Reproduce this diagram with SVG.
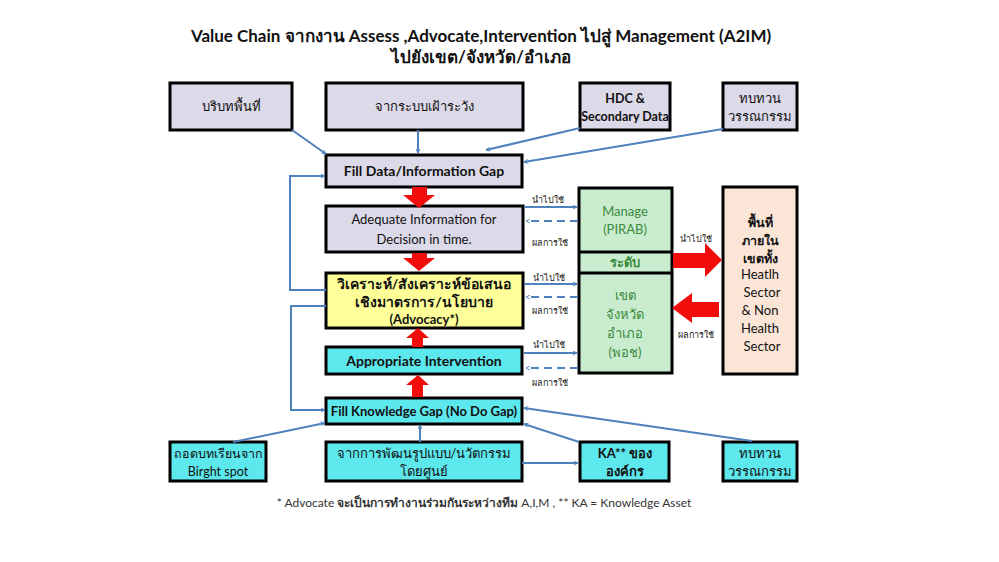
<svg xmlns="http://www.w3.org/2000/svg" width="999" height="562" viewBox="0 0 999 562">
<defs>
<marker id="ah" viewBox="0 0 10 10" refX="9" refY="5" markerWidth="5" markerHeight="5" orient="auto" markerUnits="userSpaceOnUse">
<path d="M1,1 L9,5 L1,9" fill="none" stroke="#4f81bd" stroke-width="1.8"/>
</marker>
</defs>
<style>
text{font-family:Lato,"Noto Sans","DejaVu Sans",sans-serif;text-anchor:middle;fill:#111}
.box{stroke:#000;stroke-width:3}
.lav{fill:#dcd9e8}
.cyan{fill:#5de8ee}
.yel{fill:#ffff99}
.grn{fill:#c9eccf}
.peach{fill:#fbe5d6}
.b{font-weight:bold}
.t13{font-size:13px}
.t12{font-size:12.5px}
.t14{font-size:14px}
.g{fill:#3b8a3b}
.lbl{font-size:9px;fill:#222}
.con{stroke:#4f81bd;stroke-width:2;fill:none}
.dash{stroke-dasharray:8,5}
.red{fill:#f20d0d}
</style>
<rect width="999" height="562" fill="#fff"/>
<text x="481" y="42" class="b" style="font-size:17px">Value Chain จากงาน Assess ,Advocate,Intervention ไปสู่ Management (A2IM)</text>
<text x="481" y="63" class="b" style="font-size:17px">ไปยังเขต/จังหวัด/อำเภอ</text>

<g id="n-context"><rect class="box lav" x="170" y="83" width="122" height="47"/><text x="231" y="111" class="t13">บริบทพื้นที่</text></g>
<g id="n-surveil"><rect class="box lav" x="326" y="83" width="197" height="47"/><text x="424" y="111" class="t13">จากระบบเฝ้าระวัง</text></g>
<g id="n-hdc"><rect class="box lav" x="580" y="83" width="90" height="47"/><text x="625" y="103" class="t12 b">HDC &amp;</text><text x="625" y="121" class="t12 b">Secondary Data</text></g>
<g id="n-lit1"><rect class="box lav" x="723" y="83" width="74" height="47"/><text x="760" y="103" class="t13">ทบทวน</text><text x="760" y="121" class="t13">วรรณกรรม</text></g>

<g id="n-filldata"><rect class="box lav" x="326" y="155" width="196" height="32"/><text x="424" y="176" class="t14 b">Fill Data/Information Gap</text></g>
<g id="n-adequate"><rect class="box lav" x="326" y="206" width="197" height="46"/><text x="424" y="224" class="t13">Adequate  Information for</text><text x="424" y="244" class="t13">Decision in time.</text></g>
<g id="n-analysis"><rect class="box yel" x="326" y="273" width="197" height="55"/><text x="424" y="289" class="t14 b">วิเคราะห์/สังเคราะห์ข้อเสนอ</text><text x="424" y="307" class="t14 b">เชิงมาตรการ/นโยบาย</text><text x="424" y="324" class="t13 b">(Advocacy*)</text></g>
<g id="n-approp"><rect class="box cyan" x="326" y="347" width="196" height="27"/><text x="424" y="366" class="t14 b">Appropriate Intervention</text></g>
<g id="n-fillknow"><rect class="box cyan" x="326" y="398" width="196" height="26"/><text x="424" y="416" class="t13 b">Fill Knowledge Gap (No Do Gap)</text></g>

<g id="n-bright"><rect class="box cyan" x="170" y="442" width="96" height="39"/><text x="218" y="458" class="t12">ถอดบทเรียนจาก</text><text x="218" y="476" class="t12">Birght spot</text></g>
<g id="n-develop"><rect class="box cyan" x="326" y="442" width="196" height="39"/><text x="424" y="458" class="t13">จากการพัฒนรูปแบบ/นวัตกรรม</text><text x="424" y="476" class="t13">โดยศูนย์</text></g>
<g id="n-ka"><rect class="box cyan" x="580" y="442" width="89" height="39"/><text x="625" y="458" class="t13 b">KA** ของ</text><text x="625" y="476" class="t13 b">องค์กร</text></g>
<g id="n-lit2"><rect class="box cyan" x="723" y="442" width="74" height="39"/><text x="760" y="458" class="t13">ทบทวน</text><text x="760" y="476" class="t13">วรรณกรรม</text></g>

<g id="n-level">
<rect class="box grn" x="579" y="188" width="93" height="185"/>
<line x1="579" y1="252" x2="672" y2="252" stroke="#000" stroke-width="3"/>
<line x1="579" y1="273" x2="672" y2="273" stroke="#000" stroke-width="3"/>
<text x="625" y="216" class="t13 g">Manage</text><text x="625" y="234" class="t13 g">(PIRAB)</text>
<text x="625" y="267" class="t13 g b">ระดับ</text>
<text x="625" y="300" class="t13 g">เขต</text><text x="625" y="319" class="t13 g">จังหวัด</text><text x="625" y="338" class="t13 g">อำเภอ</text><text x="625" y="357" class="t13 g">(พอช)</text>
</g>
<g id="n-area">
<rect class="box peach" x="723" y="187" width="74" height="187"/>
<text x="760" y="227" class="t12 b">พื้นที่</text><text x="760" y="245" class="t12 b">ภายใน</text><text x="760" y="263" class="t12 b">เขตทั้ง</text>
<text x="760" y="279" class="t13">Heatlh</text><text x="762" y="297" class="t13">Sector</text><text x="760" y="315" class="t13">&amp; Non</text><text x="760" y="333" class="t13">Health</text><text x="762" y="351" class="t13">Sector</text>
</g>

<g id="connectors">
<line class="con" x1="292" y1="130" x2="326" y2="154" marker-end="url(#ah)"/>
<line class="con" x1="418" y1="130" x2="418" y2="153" marker-end="url(#ah)"/>
<line class="con" x1="580" y1="128" x2="486" y2="150" marker-end="url(#ah)"/>
<line class="con" x1="723" y1="129" x2="524" y2="162" marker-end="url(#ah)"/>
<polyline class="con" points="326,290 290,290 290,176 325,176" stroke-width="2.5" marker-end="url(#ah)"/>
<polyline class="con" points="326,306 291,306 291,410 325,410" stroke-width="1.2" marker-end="url(#ah)"/>
<line class="con" x1="233" y1="442" x2="325" y2="423" marker-end="url(#ah)"/>
<line class="con" x1="420" y1="442" x2="420" y2="425" marker-end="url(#ah)"/>
<line class="con" x1="579" y1="442" x2="524" y2="424" marker-end="url(#ah)"/>
<line class="con" x1="752" y1="441" x2="524" y2="408" marker-end="url(#ah)"/>
<line class="con" x1="522" y1="463" x2="578" y2="463" marker-end="url(#ah)"/>

<line class="con" x1="524" y1="207" x2="577" y2="207" marker-end="url(#ah)"/>
<line class="con dash" x1="578" y1="221" x2="526" y2="221" marker-end="url(#ah)"/>
<line class="con" x1="524" y1="284" x2="577" y2="284" marker-end="url(#ah)"/>
<line class="con dash" x1="578" y1="297" x2="526" y2="297" marker-end="url(#ah)"/>
<line class="con" x1="524" y1="353" x2="577" y2="353" marker-end="url(#ah)"/>
<line class="con dash" x1="578" y1="368" x2="526" y2="368" marker-end="url(#ah)"/>

<text x="548" y="203" class="lbl">นำไปใช้</text>
<text x="550" y="246" class="lbl">ผลการใช้</text>
<text x="549" y="281" class="lbl">นำไปใช้</text>
<text x="550" y="314" class="lbl">ผลการใช้</text>
<text x="549" y="348" class="lbl">นำไปใช้</text>
<text x="550" y="386" class="lbl">ผลการใช้</text>
<text x="696" y="242" class="lbl">นำไปใช้</text>
<text x="696" y="338" class="lbl">ผลการใช้</text>

<polygon class="red" points="412,187 427,187 427,195 435,195 419,208 403,195 412,195"/>
<polygon class="red" points="412,253 427,253 427,258 435,258 419,271 403,258 412,258"/>
<polygon class="red" points="418,328 429,338 423,338 423,347 412,347 412,338 406,338"/>
<polygon class="red" points="418,375 429,385 423,385 423,397 412,397 412,385 406,385"/>
<polygon class="red" points="673,253 705,253 705,243 722,260 705,277 705,268 673,268"/>
<polygon class="red" points="719,302 692,302 692,293 672,308 692,323 692,317 719,317"/>
</g>

<text x="484" y="507" style="font-size:12px;fill:#333">* Advocate <tspan font-weight="bold">จะเป็นการทำงานร่วมกันระหว่างทีม</tspan>   A,I,M , ** KA = Knowledge Asset</text>
</svg>
